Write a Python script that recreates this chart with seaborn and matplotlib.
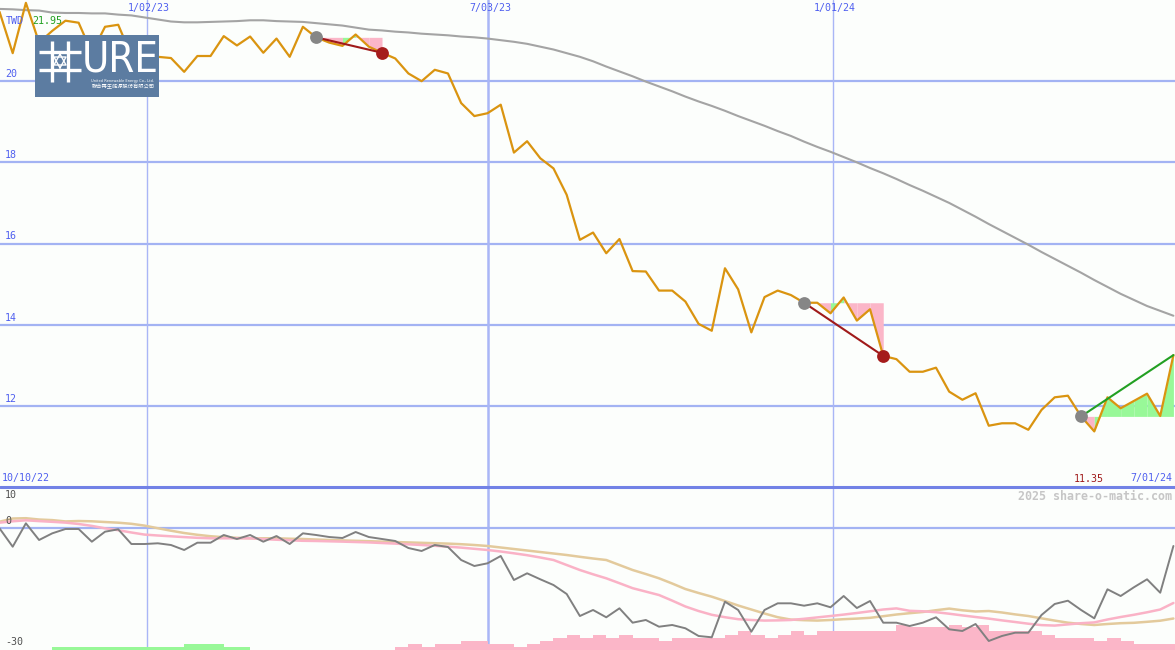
import numpy as np
import matplotlib
matplotlib.use("Agg")
import matplotlib.pyplot as plt
import seaborn as sns

# ---------------- data ----------------
weeks = np.arange(-1, 89)

price = [21.71, 20.69, 21.93, 20.95, 21.24, 21.49, 21.44, 20.70, 21.34, 21.39,
         20.62, 20.62, 20.60, 20.57, 20.23, 20.62, 20.62, 21.11, 20.88, 21.10,
         20.70, 21.05, 20.60, 21.34, 21.08, 20.95, 20.87, 21.15, 20.85, 20.70,
         20.56, 20.19, 20.00, 20.28, 20.19, 19.46, 19.14, 19.21, 19.42, 18.24,
         18.52, 18.10, 17.85, 17.20, 16.09, 16.27, 15.76, 16.11, 15.32, 15.31,
         14.84, 14.84, 14.57, 14.02, 13.85, 15.39, 14.87, 13.81, 14.68, 14.84,
         14.73, 14.54, 14.54, 14.28, 14.67, 14.10, 14.38, 13.23, 13.15, 12.84,
         12.84, 12.94, 12.35, 12.15, 12.31, 11.51, 11.57, 11.57, 11.41, 11.90,
         12.21, 12.25, 11.74, 11.37, 12.21, 11.94, 12.12, 12.30, 11.75, 13.25]

moving_avg = [21.78, 21.77, 21.75, 21.74, 21.69, 21.68, 21.68, 21.67, 21.67, 21.64,
              21.62, 21.57, 21.52, 21.47, 21.45, 21.45, 21.46, 21.47, 21.48, 21.50,
              21.50, 21.48, 21.47, 21.46, 21.43, 21.40, 21.37, 21.32, 21.27, 21.25,
              21.22, 21.20, 21.17, 21.15, 21.13, 21.10, 21.08, 21.05, 21.01, 20.97,
              20.92, 20.85, 20.78, 20.69, 20.60, 20.49, 20.36, 20.24, 20.12, 19.99,
              19.87, 19.75, 19.62, 19.50, 19.39, 19.27, 19.14, 19.02, 18.90, 18.77,
              18.65, 18.51, 18.38, 18.26, 18.13, 18.00, 17.86, 17.73, 17.59, 17.44,
              17.30, 17.15, 17.00, 16.83, 16.66, 16.48, 16.31, 16.14, 15.97, 15.79,
              15.62, 15.45, 15.28, 15.10, 14.93, 14.76, 14.61, 14.46, 14.34, 14.22]

oscillator = [-0.08, -4.71, 1.18, -3.02, -1.34, -0.25, -0.25, -3.45, -0.93, -0.33,
              -4.03, -4.03, -3.85, -4.28, -5.54, -3.70, -3.70, -1.76, -2.77, -1.76,
              -3.45, -2.02, -4.03, -1.34, -1.76, -2.27, -2.52, -1.01, -2.27, -2.77,
              -3.27, -5.04, -5.79, -4.28, -4.79, -8.06, -9.57, -8.89, -7.05, -13.10,
              -11.41, -12.92, -14.36, -16.62, -22.17, -20.65, -22.49, -20.23, -23.85, -23.17,
              -24.86, -24.43, -25.26, -27.20, -27.53, -18.56, -20.65, -26.12, -20.65, -18.97,
              -18.97, -19.57, -18.97, -19.97, -17.13, -20.15, -18.39, -23.85, -23.85, -24.69,
              -23.85, -22.49, -25.52, -25.94, -24.18, -28.46, -27.20, -26.37, -26.37, -21.91,
              -19.14, -18.31, -20.65, -22.75, -15.44, -17.13, -14.94, -12.92, -16.30, -4.53]

signal_fast = [1.34, 1.69, 1.94, 1.74, 1.56, 1.36, 1.01, 0.53, -0.08, -0.55,
               -1.13, -1.66, -1.89, -2.09, -2.29, -2.47, -2.59, -2.59, -2.59, -2.59,
               -2.80, -2.95, -3.10, -3.22, -3.27, -3.35, -3.43, -3.53, -3.63, -3.78,
               -3.93, -4.11, -4.28, -4.48, -4.69, -4.94, -5.24, -5.54, -5.92, -6.37,
               -6.85, -7.43, -8.06, -9.32, -10.58, -11.66, -12.67, -13.90, -15.16, -16.02,
               -16.88, -18.29, -19.77, -20.91, -21.86, -22.47, -22.97, -23.17, -23.32, -23.27,
               -23.17, -22.87, -22.52, -22.17, -21.81, -21.41, -20.98, -20.53, -20.25, -20.86,
               -20.98, -21.21, -21.59, -22.02, -22.42, -22.82, -23.27, -23.68, -24.11, -24.46,
               -24.58, -24.28, -23.98, -23.78, -23.05, -22.42, -21.86, -21.23, -20.53, -18.89]

signal_slow = [1.59, 2.39, 2.47, 2.14, 1.99, 1.66, 1.76, 1.69, 1.51, 1.34,
               1.06, 0.60, -0.05, -0.68, -1.26, -1.71, -2.07, -2.32, -2.47, -2.59,
               -2.59, -2.59, -2.70, -2.77, -2.90, -3.02, -3.12, -3.22, -3.32, -3.43,
               -3.53, -3.63, -3.73, -3.83, -3.93, -4.08, -4.28, -4.53, -4.91, -5.29,
               -5.67, -6.05, -6.42, -6.80, -7.25, -7.68, -8.06, -9.32, -10.58, -11.59,
               -12.67, -13.98, -15.37, -16.37, -17.30, -18.39, -19.52, -20.53, -21.54, -22.47,
               -23.07, -23.22, -23.32, -23.17, -22.97, -22.82, -22.62, -22.22, -21.79, -21.46,
               -21.16, -20.71, -20.30, -20.73, -21.03, -20.91, -21.28, -21.76, -22.17, -22.75,
               -23.32, -23.85, -24.18, -24.43, -24.18, -23.98, -23.88, -23.63, -23.35, -22.80]

histogram = [0, 0, 0, 0, 0.68, 0.68, 0.68, 0.68, 0.68, 0.68,
             0.68, 0.68, 0.68, 0.68, 1.51, 1.51, 1.51, 0.68, 0.68, 0,
             0, 0, 0, 0, 0, 0, 0, 0, 0, 0,
             -0.68, -1.51, -0.68, -1.51, -1.51, -2.27, -2.27, -1.51, -1.51, -0.68,
             -1.51, -2.27, -3.02, -3.78, -3.02, -3.78, -3.02, -3.78, -3.02, -3.02,
             -2.27, -3.02, -3.02, -3.02, -3.02, -3.78, -4.79, -3.78, -3.02, -3.78,
             -4.79, -3.78, -4.79, -4.79, -4.79, -4.79, -4.79, -4.79, -6.30, -5.79,
             -5.79, -5.79, -6.30, -5.79, -6.30, -4.79, -4.79, -4.79, -4.79, -3.78,
             -3.02, -3.02, -3.02, -2.27, -3.02, -2.27, -1.51, -1.51, -1.51, -1.51]

date_labels = ["1/02/23", "7/03/23", "1/01/24"]
date_weeks = [10.18, 36.03, 62.19]
price_ticks = [20, 18, 16, 14, 12]
lower_ticks = ["10", "0", "-30"]
range_start, range_end = "10/10/22", "7/01/24"
currency, period_high, period_low = "TWD", "21.95", "11.35"

trade_entry = [23, 60, 81]
trade_exit = [28, 66, 88]
trade_closed = [True, True, False]

# ---------------- style ----------------
sns.set_theme(style="white")
plt.rcParams['font.family'] = ['DejaVu Sans Mono', 'Noto Sans CJK TC', 'DejaVu Sans']

BG = '#FCFEFC'
GRID = '#A3B3F3'
VGRID = '#A9B6F6'
BLUE_TXT = '#4F5FEF'
PRICE_C = '#DA9410'
MA_C = '#A4A4A4'
PINK = '#FBB6C8'
GREEN = '#98F898'
DRED = '#A01A1A'
DGREEN = '#22A022'

W, H = 1175, 650
fig = plt.figure(figsize=(W / 100, H / 100), dpi=100, facecolor=BG)
top_px = 487
ax = fig.add_axes([0, 1 - top_px / H, 1, top_px / H])
ax2 = fig.add_axes([0, 0, 1, 1 - top_px / H])
XL = (-0.963, 88.12)
for a in (ax, ax2):
    a.set_facecolor(BG)
    a.set_xlim(*XL)
    for s in a.spines.values():
        s.set_visible(False)
    a.set_xticks([])
    a.set_yticks([])
    a.set_xlabel('')
    a.set_ylabel('')
ax.set_ylim(10, 22)
YB, YT = -30.73, 10.33
ax2.set_ylim(YB, YT)

wk = weeks.astype(float)
p = np.array(price)

# grid
for v in price_ticks:
    ax.axhline(v, color=GRID, lw=1.6, zorder=1)
    ax.text(5 / W, v + 0.05, str(v), transform=ax.get_yaxis_transform(),
            ha='left', va='bottom', fontsize=7.2, color=BLUE_TXT)
for i, (d, lab) in enumerate(zip(date_weeks, date_labels)):
    lw = 1.8 if i == 1 else 1.0
    ax.axvline(d, color=VGRID, lw=lw, zorder=1)
    ax2.axvline(d, color=VGRID, lw=lw, zorder=1)
    ax.text(d + 0.15, 1 - 8 / top_px, lab, transform=ax.get_xaxis_transform(),
            ha='center', va='center', fontsize=7.2, color=BLUE_TXT)

# moving average & price
sns.lineplot(x=wk, y=moving_avg, ax=ax, color=MA_C, linewidth=1.5, zorder=3,
             estimator=None, sort=False)

# trades
for e, xo, closed in zip(trade_entry, trade_exit, trade_closed):
    ie, io = e + 1, xo + 1
    lvl = p[ie]
    for i in range(ie, io):
        col = GREEN if p[i + 1] > lvl else PINK
        ax.fill_between(wk[i:i + 2], lvl, p[i:i + 2], color=col, lw=0, zorder=2)

sns.lineplot(x=wk, y=p, ax=ax, color=PRICE_C, linewidth=1.6, zorder=4,
             estimator=None, sort=False)

for e, xo, closed in zip(trade_entry, trade_exit, trade_closed):
    ie, io = e + 1, xo + 1
    col = DGREEN if p[io] > p[ie] else DRED
    ax.plot([wk[ie], wk[io]], [p[ie], p[io]], color=col, lw=1.5, zorder=5)
    ax.scatter([wk[ie]], [p[ie]], s=85, color='#868686', lw=0, zorder=6)
    if closed:
        ax.scatter([wk[io]], [p[io]], s=85, color='#A51C1C', lw=0, zorder=6)

# top labels
ax.text(6 / W, 1 - 21 / top_px, currency, transform=ax.transAxes, ha='left',
        va='center', fontsize=7.2, color=BLUE_TXT, zorder=7)
ax.text(32 / W, 1 - 21 / top_px, period_high, transform=ax.transAxes, ha='left',
        va='center', fontsize=7.2, color=DGREEN, zorder=7)
ax.text(2 / W, (top_px - 478.5) / top_px, range_start, transform=ax.transAxes,
        ha='left', va='center', fontsize=7.2, color=BLUE_TXT)
ax.text(1074 / W, (top_px - 478.5) / top_px, period_low, transform=ax.transAxes,
        ha='left', va='center', fontsize=7.2, color=DRED)
ax.text(1172 / W, (top_px - 478.5) / top_px, range_end, transform=ax.transAxes,
        ha='right', va='center', fontsize=7.2, color=BLUE_TXT)

# lower panel
hist = np.array(histogram)
bar_cols = [GREEN if h > 0 else PINK for h in hist]
ax2.bar(wk, np.abs(hist), width=1.0, align='edge', bottom=YB, color=bar_cols,
        lw=0, zorder=2)
ax2.axhline(0, color=GRID, lw=1.6, zorder=1)
ax2.axhline(YT, color='#7282E6', lw=2.2, zorder=8, clip_on=False)
sns.lineplot(x=wk, y=signal_slow, ax=ax2, color='#E3CA9C', linewidth=1.8,
             zorder=3, estimator=None, sort=False)
sns.lineplot(x=wk, y=signal_fast, ax=ax2, color='#FAB2C6', linewidth=1.8,
             zorder=3, estimator=None, sort=False)
sns.lineplot(x=wk, y=oscillator, ax=ax2, color='#808080', linewidth=1.4,
             zorder=4, estimator=None, sort=False)
ax2.text(5 / W, 9.6, lower_ticks[0], transform=ax2.get_yaxis_transform(),
         ha='left', va='top', fontsize=7.2, color='#505050')
ax2.text(5 / W, 0.55, lower_ticks[1], transform=ax2.get_yaxis_transform(),
         ha='left', va='bottom', fontsize=7.2, color='#505050')
ax2.text(5 / W, -29.95, lower_ticks[2], transform=ax2.get_yaxis_transform(),
         ha='left', va='bottom', fontsize=7.2, color='#505050')
fig.text(1172 / W, 1 - 496 / H, "2025 share-o-matic.com", ha='right', va='center',
         fontsize=8.4, fontweight='bold', color='#C6C6C6')

# logo
lg = fig.add_axes([35 / W, 1 - 97 / H, 124 / W, 62 / H])
lg.set_facecolor('#5C7CA1')
lg.set_xlim(0, 124)
lg.set_ylim(62, 0)
lg.set_xticks([])
lg.set_yticks([])
for s in lg.spines.values():
    s.set_visible(False)
wc = 'white'
for xv in (17, 33):
    lg.plot([xv, xv], [6, 47], color=wc, lw=2.4, solid_capstyle='butt')
for yv in (17, 35):
    lg.plot([4, 46], [yv, yv], color=wc, lw=2.4, solid_capstyle='butt')
tri1 = np.array([[25, 19], [31, 30], [19, 30], [25, 19]])
tri2 = np.array([[25, 33], [31, 22], [19, 22], [25, 33]])
lg.plot(tri1[:, 0], tri1[:, 1], color=wc, lw=1.0)
lg.plot(tri2[:, 0], tri2[:, 1], color=wc, lw=1.0)
lg.text(85, 24, "URE", ha='center', va='center', fontsize=30, color=wc,
        family=['DejaVu Sans'], fontstretch='condensed')
lg.text(88, 46, "United Renewable Energy Co., Ltd.", ha='center', va='center',
        fontsize=2.6, color=wc, family=['DejaVu Sans'])
lg.text(88, 52, "聯合再生能源股份有限公司", ha='center', va='center',
        fontsize=3.8, color=wc, family=['Noto Sans CJK TC', 'DejaVu Sans'])

fig.savefig("out.png", dpi=100, facecolor=BG)
